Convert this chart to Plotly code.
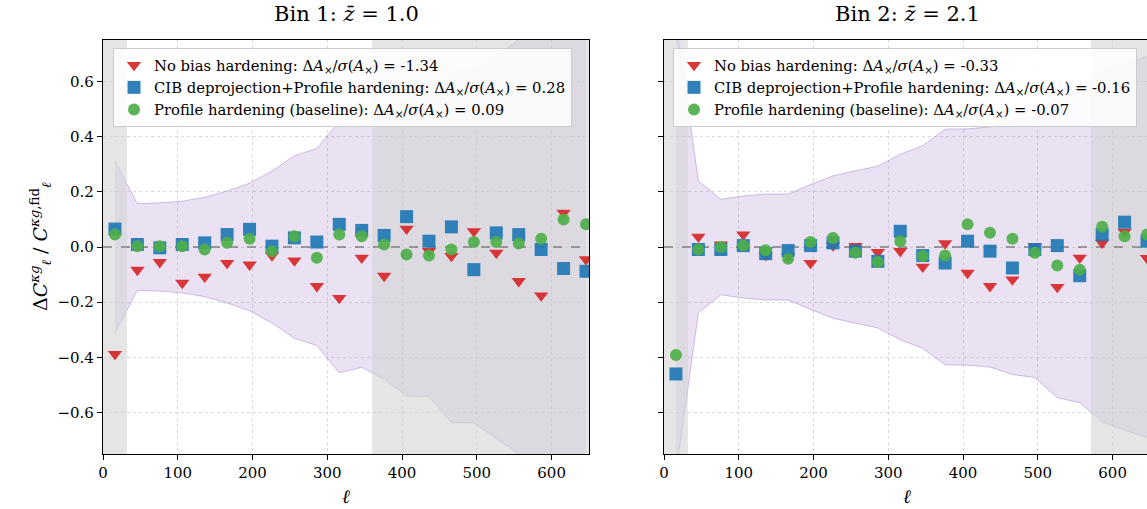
import plotly.graph_objects as go

# ---------------- data ----------------
ell = [16, 46, 76, 106, 136, 166, 196, 226, 256, 286, 316, 346, 376, 406, 436,
       466, 496, 526, 556, 586, 616, 646]

# 1-sigma fractional error band
sigma_bin1 = [0.312, 0.157, 0.160, 0.166, 0.180, 0.203, 0.231, 0.275, 0.331, 0.357, 0.456,
              0.436, 0.478, 0.540, 0.542, 0.636, 0.637, 0.694, 0.750, 0.820, 0.850, 0.900]
sigma_bin2 = [0.820, 0.239, 0.173, 0.185, 0.192, 0.192, 0.226, 0.258, 0.276, 0.293, 0.336,
              0.367, 0.427, 0.428, 0.435, 0.462, 0.473, 0.546, 0.564, 0.633, 0.664, 0.690]

nobias_bin1 = [-0.388, -0.083, -0.055, -0.130, -0.108, -0.058, -0.064, -0.031, -0.049, -0.142, -0.185,
               -0.039, -0.105, 0.066, -0.015, -0.033, 0.057, -0.021, -0.124, -0.176, 0.124, -0.045]
cib_bin1 = [0.065, 0.009, -0.003, 0.009, 0.015, 0.045, 0.064, 0.003, 0.033, 0.018, 0.082,
            0.060, 0.042, 0.110, 0.021, 0.073, -0.082, 0.051, 0.045, -0.009, -0.078, -0.088]
prof_bin1 = [0.045, 0.003, 0.003, 0.003, -0.009, 0.015, 0.030, -0.015, 0.039, -0.039, 0.045,
             0.039, 0.009, -0.027, -0.031, -0.009, 0.018, 0.018, 0.013, 0.030, 0.100, 0.082]

nobias_bin2 = [-0.950, 0.037, 0.009, 0.045, -0.030, -0.035, -0.058, 0.005, 0.003, -0.019, -0.015,
               -0.072, 0.013, -0.094, -0.142, -0.118, 0.003, -0.145, -0.039, 0.015, 0.055, -0.040]
cib_bin2 = [-0.460, -0.009, -0.009, 0.005, -0.024, -0.013, 0.005, 0.015, -0.015, -0.052, 0.057,
            -0.031, -0.058, 0.021, -0.015, -0.076, -0.009, 0.005, -0.104, 0.045, 0.090, 0.021]
prof_bin2 = [-0.391, -0.009, 0.000, 0.005, -0.012, -0.043, 0.018, 0.033, -0.021, -0.054, 0.021,
             -0.033, -0.031, 0.082, 0.052, 0.030, -0.021, -0.067, -0.082, 0.073, 0.039, 0.045]

# scale cuts (ell_min, ell_max) per bin
lmin_bin1, lmax_bin1 = 32, 360
lmin_bin2, lmax_bin2 = 32, 571

titles = ["Bin 1: <i>z̄</i> = 1.0", "Bin 2: <i>z̄</i> = 2.1"]
shifts_bin1 = ["-1.34", "0.28", "0.09"]
shifts_bin2 = ["-0.33", "-0.16", "-0.07"]
series_names = ["No bias hardening", "CIB deprojection+Profile hardening", "Profile hardening (baseline)"]

x_ticks = [0, 100, 200, 300, 400, 500, 600]
y_ticks = [-0.6, -0.4, -0.2, 0.0, 0.2, 0.4, 0.6]
y_tick_text = ["\u22120.6", "\u22120.4", "\u22120.2", "0.0", "0.2", "0.4", "0.6"]

# ---------------- styles ----------------
FONT = "DejaVu Serif"
RED = "rgb(214,39,40)"
BLUE = "rgb(31,119,180)"
GREEN = "rgb(77,175,74)"
symbols = ["triangle-down", "square", "circle"]
colors = [RED, BLUE, GREEN]
sizes = [12.5, 13, 12]

W, H = 1147, 509
L, R, T, B = 103, 0, 40, 55
plot_w = W - L - R
plot_h = H - T - B
px_per_ell = (589 - 103) / 650.0
dom1 = [0, (589 - L) / plot_w]
dom2 = [(664 - L) / plot_w, 1.0]
xmax2 = (W - 664) / px_per_ell

fig = go.Figure()

panels = [
    (sigma_bin1, [nobias_bin1, cib_bin1, prof_bin1], shifts_bin1, lmin_bin1, lmax_bin1, 650, "x", "y", "legend"),
    (sigma_bin2, [nobias_bin2, cib_bin2, prof_bin2], shifts_bin2, lmin_bin2, lmax_bin2, xmax2, "x2", "y2", "legend2"),
]

for sig, series, shifts, lmin, lmax, xmax, xa, ya, lg in panels:
    up = [s for s in sig]
    lo = [-s for s in sig]
    # band
    fig.add_trace(go.Scatter(x=ell, y=lo, mode="lines", line=dict(color="rgba(148,103,189,0.4)", width=1),
                             showlegend=False, hoverinfo="skip", xaxis=xa, yaxis=ya))
    fig.add_trace(go.Scatter(x=ell, y=up, mode="lines", line=dict(color="rgba(148,103,189,0.4)", width=1),
                             fill="tonexty", fillcolor="rgba(148,103,189,0.2)",
                             showlegend=False, hoverinfo="skip", xaxis=xa, yaxis=ya))
    # excluded scales
    for a, b in [(0, lmin), (lmax, xmax + 20)]:
        fig.add_trace(go.Scatter(x=[a, b, b, a, a], y=[-1, -1, 1, 1, -1], mode="lines",
                                 line=dict(width=0), fill="toself", fillcolor="rgba(211,211,211,0.6)",
                                 showlegend=False, hoverinfo="skip", xaxis=xa, yaxis=ya))
    # zero reference line (above shading, under the markers)
    fig.add_trace(go.Scatter(x=[0, xmax + 20], y=[0, 0], mode="lines",
                             line=dict(color="rgb(128,128,128)", width=1.5, dash="dash"),
                             showlegend=False, hoverinfo="skip", xaxis=xa, yaxis=ya))
    for name, vals, sym, col, sz, sh in zip(series_names, series, symbols, colors, sizes, shifts):
        fig.add_trace(go.Scatter(
            x=ell, y=vals, mode="markers",
            marker=dict(symbol=sym, color=col, size=sz, line=dict(width=0), opacity=0.92),
            name=f"{name}: Δ<i>A</i><sub>×</sub>/<i>σ</i>(<i>A</i><sub>×</sub>) = {sh}",
            legend=lg, xaxis=xa, yaxis=ya))

axis_common = dict(showline=True, linecolor="black", linewidth=1.3, ticks="outside", ticklen=5,
                   tickwidth=1.2, tickcolor="black", showgrid=True, gridcolor="rgba(190,190,190,0.55)",
                   griddash="dot", gridwidth=0.8, zeroline=False,
                   tickfont=dict(family=FONT, size=15, color="black"))

legend_common = dict(xanchor="left", yanchor="top", traceorder="normal",
                     bgcolor="rgba(255,255,255,0.85)", bordercolor="rgb(204,204,204)", borderwidth=1,
                     font=dict(family=FONT, size=14.8, color="black"), tracegroupgap=0)

fig.update_layout(
    width=W, height=H, margin=dict(l=L, r=R, t=T, b=B),
    plot_bgcolor="white", paper_bgcolor="white",
    font=dict(family=FONT, color="black"),
    xaxis=dict(domain=dom1, range=[0, 650], tickvals=x_ticks, mirror=True, anchor="y", **axis_common),
    yaxis=dict(domain=[0, 1], range=[-0.75, 0.75], tickvals=y_ticks, ticktext=y_tick_text,
               mirror=True, anchor="x", **axis_common),
    xaxis2=dict(domain=dom2, range=[0, xmax2], tickvals=x_ticks, mirror=True, anchor="y2", **axis_common),
    yaxis2=dict(domain=[0, 1], range=[-0.75, 0.75], tickvals=y_ticks, showticklabels=False,
                mirror=False, anchor="x2", **axis_common),
    legend=dict(x=(113 - L) / plot_w, y=1 - (48 - T) / plot_h, **legend_common),
    legend2=dict(x=(673 - L) / plot_w, y=1 - (48 - T) / plot_h, **legend_common),
)

# titles and axis labels
for dom, t in zip([dom1, [dom2[0], dom2[0] + (dom1[1] - dom1[0])]], titles):
    cx = (dom[0] + dom[1]) / 2
    fig.add_annotation(text=t, x=cx, y=1 + 26 / plot_h, xref="paper", yref="paper",
                       showarrow=False, font=dict(family=FONT, size=21, color="black"),
                       xanchor="center", yanchor="middle")
    fig.add_annotation(text="<i>ℓ</i>", x=cx, y=-(496 - 454) / plot_h, xref="paper", yref="paper",
                       showarrow=False, font=dict(family=FONT, size=19, color="black"),
                       xanchor="center", yanchor="middle")

fig.add_annotation(text="Δ<i>C</i><sup><i>κg</i></sup><sub><i>ℓ</i></sub> / <i>C</i><sup><i>κg</i>,fid</sup><sub><i>ℓ</i></sub>",
                   x=(40 - L) / plot_w, y=0.5, xref="paper", yref="paper", textangle=-90,
                   showarrow=False, font=dict(family=FONT, size=19, color="black"),
                   xanchor="center", yanchor="middle")

fig.write_html("out.html")
